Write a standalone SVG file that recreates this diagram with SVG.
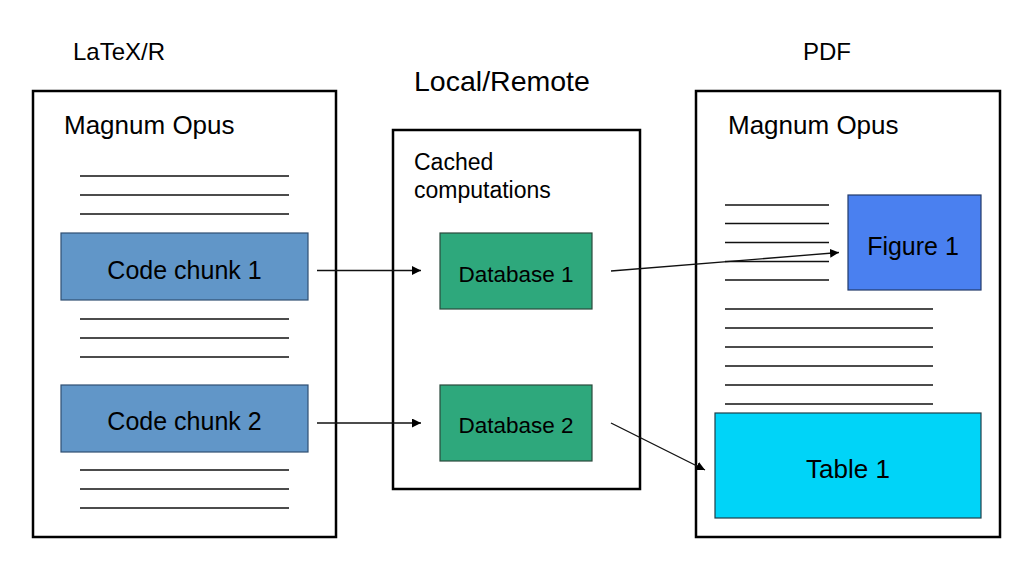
<svg xmlns="http://www.w3.org/2000/svg" width="1023" height="561" viewBox="0 0 1023 561">
  <style>
    text { font-family: "Liberation Sans", Arial, sans-serif; fill: #000; }
    .title { font-size: 24px; }
    .big { font-size: 28.5px; }
    .head { font-size: 26px; }
    .lbl { font-size: 25px; text-anchor: middle; }
    .small { font-size: 23px; }
    .db-lbl { font-size: 22.5px; text-anchor: middle; }
    .frame { fill: #fff; stroke: #000; stroke-width: 2.5; }
    .rule { stroke: #111; stroke-width: 1.3; }
    .chunk { fill: #6196c8; stroke: #2f4f72; stroke-width: 1.2; }
    .db { fill: #2ea87c; stroke: #2a4a3c; stroke-width: 1.2; }
    .fig { fill: #4a80f0; stroke: #223a6a; stroke-width: 1.2; }
    .tab { fill: #00d4f8; stroke: #1f3f4a; stroke-width: 1.2; }
    .edge { stroke: #111; stroke-width: 1.3; fill: none; marker-end: url(#arrow); }
  </style>
  <defs>
    <marker id="arrow" viewBox="0 0 10 10" refX="10" refY="5" markerWidth="9" markerHeight="9" markerUnits="userSpaceOnUse" orient="auto">
      <path d="M0,0 L10,5 L0,10 z" fill="#000"/>
    </marker>
  </defs>

  <rect width="1023" height="561" fill="#fff"/>

  <!-- column captions -->
  <text class="title" x="73" y="60">LaTeX/R</text>
  <text class="big" x="414" y="91">Local/Remote</text>
  <text class="title" x="803" y="60">PDF</text>

  <!-- source document -->
  <g id="source-doc">
    <rect class="frame" x="33" y="91" width="303" height="446"/>
    <text class="head" x="64" y="134">Magnum Opus</text>
    <g class="rule">
      <line x1="80" y1="176" x2="289" y2="176"/>
      <line x1="80" y1="195" x2="289" y2="195"/>
      <line x1="80" y1="214" x2="289" y2="214"/>
      <line x1="80" y1="319" x2="289" y2="319"/>
      <line x1="80" y1="338" x2="289" y2="338"/>
      <line x1="80" y1="357" x2="289" y2="357"/>
      <line x1="80" y1="470" x2="289" y2="470"/>
      <line x1="80" y1="489" x2="289" y2="489"/>
      <line x1="80" y1="508" x2="289" y2="508"/>
    </g>
  </g>
  <g id="code-chunk-1">
    <rect class="chunk" x="61" y="233" width="247" height="67"/>
    <text class="lbl" x="184.5" y="279">Code chunk 1</text>
  </g>
  <g id="code-chunk-2">
    <rect class="chunk" x="61" y="385" width="247" height="67"/>
    <text class="lbl" x="184.5" y="430">Code chunk 2</text>
  </g>

  <!-- cache store -->
  <g id="cache">
    <rect class="frame" x="393" y="130" width="247" height="359"/>
    <text class="small" x="414" y="170">Cached</text>
    <text class="small" x="414" y="198">computations</text>
  </g>
  <g id="database-1">
    <rect class="db" x="440" y="233" width="152" height="76"/>
    <text class="db-lbl" x="516" y="282">Database 1</text>
  </g>
  <g id="database-2">
    <rect class="db" x="440" y="385" width="152" height="76"/>
    <text class="db-lbl" x="516" y="433">Database 2</text>
  </g>

  <!-- output document -->
  <g id="output-doc">
    <rect class="frame" x="696" y="91" width="304" height="446"/>
    <text class="head" x="728" y="134">Magnum Opus</text>
    <g class="rule">
      <line x1="725" y1="205" x2="829" y2="205"/>
      <line x1="725" y1="223.5" x2="829" y2="223.5"/>
      <line x1="725" y1="242.5" x2="829" y2="242.5"/>
      <line x1="725" y1="261.5" x2="829" y2="261.5"/>
      <line x1="725" y1="280" x2="829" y2="280"/>
      <line x1="725" y1="309" x2="933" y2="309"/>
      <line x1="725" y1="328" x2="933" y2="328"/>
      <line x1="725" y1="347" x2="933" y2="347"/>
      <line x1="725" y1="366" x2="933" y2="366"/>
      <line x1="725" y1="385" x2="933" y2="385"/>
      <line x1="725" y1="404" x2="933" y2="404"/>
    </g>
  </g>
  <g id="figure-1">
    <rect class="fig" x="848" y="195" width="133" height="95"/>
    <text class="lbl" x="913" y="255">Figure 1</text>
  </g>
  <g id="table-1">
    <rect class="tab" x="715" y="413" width="266" height="105"/>
    <text class="lbl" x="848" y="478" style="font-size:26px">Table 1</text>
  </g>

  <!-- connectors -->
  <g id="connectors">
    <line class="edge" x1="317" y1="270.5" x2="421" y2="270.5"/>
    <line class="edge" x1="317" y1="423" x2="421" y2="423"/>
    <line class="edge" x1="611" y1="271" x2="839" y2="252.5"/>
    <line class="edge" x1="611" y1="423" x2="705" y2="470"/>
  </g>
</svg>
